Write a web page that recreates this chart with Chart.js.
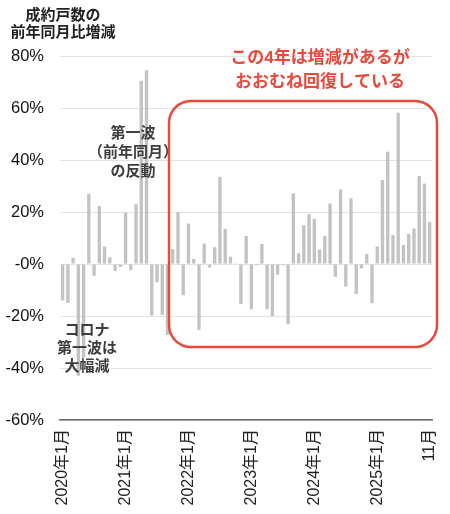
<!DOCTYPE html>
<html lang="ja">
<head>
<meta charset="utf-8">
<script src="https://cdn.jsdelivr.net/npm/chart.js@4/dist/chart.umd.min.js"></script>
<style>
  html, body { margin: 0; padding: 0; background: #fff; }
  #wrap { width: 450px; height: 514px; position: relative; }
</style>
</head>
<body>
<div id="wrap"><canvas id="chart"></canvas></div>
<script>
// 成約戸数の前年同月比増減 (%), monthly
const YEARS = [2020, 2021, 2022, 2023, 2024, 2025];
const Y2020 = [-14, -15, 2.4, -43, -36, 27, -4.5, 22.3, 6.7, 2.6, -2.7, -1.2];
const Y2021 = [19.8, -2.4, 23, 70.5, 74.5, -19.8, -7, -19.5, -27.3, 5.8, 20, -12];
const Y2022 = [15.6, 1.9, -25.4, 7.9, -1.3, 6.4, 33.6, 13.5, 2.8, 0.3, -15.4, 10.8];
const Y2023 = [-17.4, -0.5, 7.7, -17.4, -20, -4, -0.5, -23.2, 27.2, 4.1, 14.9, 19.1];
const Y2024 = [17.4, 5.6, 10.8, 23.3, -4.9, 28.7, -8.7, 25.3, -11.5, -1.7, 3.8, -15.1];
const Y2025 = [6.7, 32.3, 43.2, 11.2, 58.2, 7.3, 11.5, 13.7, 33.8, 31.0, 16.2];
const SERIES_BY_YEAR = [Y2020, Y2021, Y2022, Y2023, Y2024, Y2025];

// x tick labels shown (others hidden)
const X_TICK_LABELS = {
  '2020-01': '2020年1月',
  '2021-01': '2021年1月',
  '2022-01': '2022年1月',
  '2023-01': '2023年1月',
  '2024-01': '2024年1月',
  '2025-01': '2025年1月',
  '2025-11': '11月',
};
const Y_TICK_VALUES = [80, 60, 40, 20, 0, -20, -40, -60];
const Y_TICK_LABELS = ['80%', '60%', '40%', '20%', '-0%', '-20%', '-40%', '-60%'];

const TITLE_LINES = ['成約戸数の', '前年同月比増減'];
const NOTE_REBOUND = ['第一波', '（前年同月）', 'の反動'];
const NOTE_COVID = ['コロナ', '第一波は', '大幅減'];
const NOTE_RECOVERY = ['この4年は増減があるが', 'おおむね回復している'];

const categories = [];
const values = [];
YEARS.forEach(function (yr, i) {
  SERIES_BY_YEAR[i].forEach(function (v, m) {
    categories.push(yr + '-' + String(m + 1).padStart(2, '0'));
    values.push(v);
  });
});

const FONT = '"Liberation Sans", "Noto Sans CJK JP", sans-serif';
const RED = '#e8493c';

function drawLines(ctx, lines, cx, y0, step) {
  lines.forEach(function (t, i) { ctx.fillText(t, cx, y0 + i * step); });
}

const notesPlugin = {
  id: 'notes',
  afterDatasetsDraw(chart) {
    const ctx = chart.ctx;
    ctx.save();
    ctx.textAlign = 'center';
    ctx.textBaseline = 'middle';

    // title
    ctx.fillStyle = '#222';
    ctx.font = 'bold 15px ' + FONT;
    drawLines(ctx, TITLE_LINES, 63, 16, 17);

    // grey notes
    ctx.fillStyle = '#3d3d3d';
    ctx.font = 'bold 15px ' + FONT;
    drawLines(ctx, NOTE_REBOUND, 133, 134, 19);
    drawLines(ctx, NOTE_COVID, 87, 331, 18);

    // red note + box
    ctx.fillStyle = RED;
    ctx.font = 'bold 17px ' + FONT;
    drawLines(ctx, NOTE_RECOVERY, 320, 58, 24);

    const x0 = 169, y0 = 101, x1 = 437, y1 = 347, r = 22;
    ctx.strokeStyle = RED;
    ctx.lineWidth = 2.5;
    ctx.beginPath();
    ctx.moveTo(x0 + r, y0);
    ctx.arcTo(x1, y0, x1, y1, r);
    ctx.arcTo(x1, y1, x0, y1, r);
    ctx.arcTo(x0, y1, x0, y0, r);
    ctx.arcTo(x0, y0, x1, y0, r);
    ctx.closePath();
    ctx.stroke();
    ctx.restore();
  },
};

new Chart(document.getElementById('chart'), {
  type: 'bar',
  data: {
    labels: categories,
    datasets: [{
      data: values,
      backgroundColor: '#c3c3c3',
      borderWidth: 0,
      barPercentage: 0.64,
      categoryPercentage: 1.0,
    }],
  },
  options: {
    responsive: true,
    maintainAspectRatio: false,
    animation: false,
    devicePixelRatio: 1,
    layout: { padding: { top: 56, right: 17, bottom: 0, left: 0 } },
    plugins: {
      legend: { display: false },
      tooltip: { enabled: false },
    },
    scales: {
      x: {
        offset: true,
        grid: { display: false },
        border: { display: true, color: '#666', width: 1.5 },
        afterFit: function (scale) { scale.height = 94; },
        ticks: {
          autoSkip: false,
          minRotation: 90,
          maxRotation: 90,
          padding: 1,
          color: '#222',
          font: { family: FONT, size: 16 },
          callback: function (val, idx) {
            return X_TICK_LABELS[categories[idx]] || '';
          },
        },
      },
      y: {
        min: -60,
        max: 80,
        afterFit: function (scale) { scale.width = 60; },
        afterBuildTicks: function (scale) {
          scale.ticks = Y_TICK_VALUES.map(function (v) { return { value: v }; });
        },
        grid: { color: '#e2e2e2', lineWidth: 1, drawTicks: false },
        border: { display: false },
        ticks: {
          padding: 16,
          color: '#111',
          font: { family: FONT, size: 16.5 },
          callback: function (v) {
            const i = Y_TICK_VALUES.indexOf(v);
            return i >= 0 ? Y_TICK_LABELS[i] : '';
          },
        },
      },
    },
  },
  plugins: [notesPlugin],
});
</script>
</body>
</html>
